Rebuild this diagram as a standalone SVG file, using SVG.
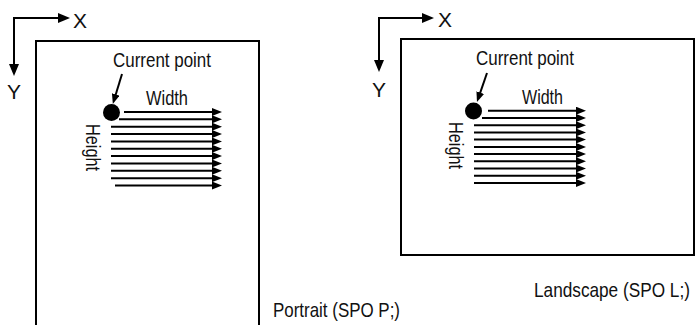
<svg xmlns="http://www.w3.org/2000/svg" width="696" height="325" viewBox="0 0 696 325">
<style>
.t{font-family:"Liberation Sans",Arial,sans-serif;font-size:21px;fill:#111;}
.ln{stroke:#000;stroke-width:2;fill:none;}
</style>
<defs>
<marker id="ah" markerUnits="userSpaceOnUse" markerWidth="10" markerHeight="8" refX="5" refY="4" orient="auto">
<path d="M0,0 L10,4 L0,8 z" fill="#000"/>
</marker>
<marker id="ax" markerUnits="userSpaceOnUse" markerWidth="12" markerHeight="10" refX="5" refY="5" orient="auto">
<path d="M0,0 L12,5 L0,10 z" fill="#000"/>
</marker>
</defs>
<rect width="696" height="325" fill="#fff"/>
<g id="portrait">
<path class="ln" d="M36,327 V41 H259 V327"/>
<text class="t" x="273" y="317" textLength="127" lengthAdjust="spacingAndGlyphs">Portrait (SPO P;)</text>
</g>
<g id="portrait-axes">
<path class="ln" d="M14,18 H63" marker-end="url(#ax)"/>
<path class="ln" d="M14,17 V69" marker-end="url(#ax)"/>
<text class="t" x="73" y="28">X</text>
<text class="t" x="7" y="99">Y</text>
</g>
<g id="portrait-point">
<circle cx="111.5" cy="112.5" r="8.5" fill="#000"/>
<text class="t" x="113" y="67" textLength="98" lengthAdjust="spacingAndGlyphs">Current point</text>
<text class="t" x="146" y="105" textLength="42" lengthAdjust="spacingAndGlyphs">Width</text>
<text class="t" transform="translate(86,124) rotate(90)" textLength="47" lengthAdjust="spacingAndGlyphs">Height</text>
</g>
<g id="landscape">
<rect class="ln" x="401" y="39" width="293" height="216"/>
<text class="t" transform="translate(534,297) scale(0.82,1)">Landscape (SPO L;)</text>
</g>
<g id="landscape-axes">
<path class="ln" d="M379,18 H427" marker-end="url(#ax)"/>
<path class="ln" d="M379,17 V65" marker-end="url(#ax)"/>
<text class="t" x="438" y="27">X</text>
<text class="t" x="372" y="97">Y</text>
</g>
<g id="landscape-point">
<circle cx="473.5" cy="111" r="8.5" fill="#000"/>
<text class="t" x="476" y="65" textLength="98" lengthAdjust="spacingAndGlyphs">Current point</text>
<text class="t" x="522" y="104" textLength="41" lengthAdjust="spacingAndGlyphs">Width</text>
<text class="t" transform="translate(449,122) rotate(90)" textLength="47" lengthAdjust="spacingAndGlyphs">Height</text>
</g>
<g id="connectors" class="ln" marker-end="url(#ah)">
<path d="M122,74 L114.3,99.2"/>
<path d="M487,73 L478.6,97.3"/>
<path d="M124,112 H217"/>
<path d="M119,119.35 H217"/>
<path d="M111,126.7 H217"/>
<path d="M111,134.05 H217"/>
<path d="M111,141.4 H217"/>
<path d="M111,148.75 H217"/>
<path d="M111,156.1 H217"/>
<path d="M111,163.45 H217"/>
<path d="M111,170.8 H217"/>
<path d="M111,178.15 H217"/>
<path d="M115,185.5 H217"/>
<path d="M488,110.7 H581"/>
<path d="M482,117.9 H581"/>
<path d="M474,125.2 H581"/>
<path d="M474,132.4 H581"/>
<path d="M474,139.6 H581"/>
<path d="M474,146.9 H581"/>
<path d="M474,154.1 H581"/>
<path d="M474,161.3 H581"/>
<path d="M474,168.6 H581"/>
<path d="M474,175.8 H581"/>
<path d="M474,183 H581"/>
</g>
</svg>
